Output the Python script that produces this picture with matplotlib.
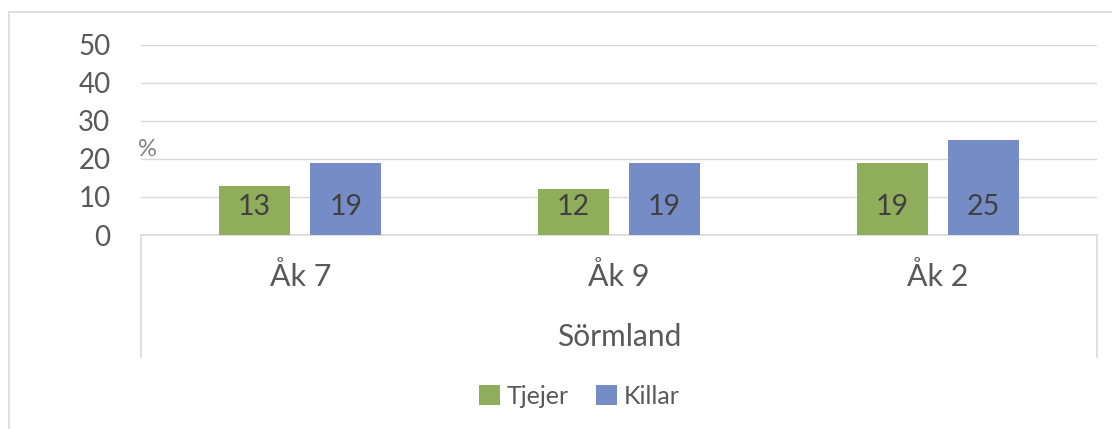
import matplotlib
matplotlib.use("Agg")
import matplotlib.pyplot as plt
import numpy as np
from matplotlib.patches import Rectangle

plt.rcParams['font.family'] = ['Lato', 'DejaVu Sans']

categories = ["Åk 7", "Åk 9", "Åk 2"]
group_label = "Sörmland"
series_names = ["Tjejer", "Killar"]
tjejer = [13, 12, 19]
killar = [19, 19, 25]
yticks = [0, 10, 20, 30, 40, 50]

green = "#8FAD5B"
blue = "#758CC6"
grid_col = "#D9D9D9"
text_col = "#595959"

fig = plt.figure(figsize=(11.12, 4.29), dpi=100)
# outer chart border
fig.patches.append(Rectangle((9 / 1112, -0.1), 1.2, 1 - 12 / 429 + 0.1,
                             transform=fig.transFigure, fill=False,
                             edgecolor=grid_col, linewidth=1.2))

ax = fig.add_axes([141 / 1112, 1 - 235 / 429, (1097 - 141) / 1112, (235 - 44.7) / 429])

x = np.arange(len(categories))
w = 0.223
off = 0.143
b1 = ax.bar(x - off, tjejer, w, color=green, label=series_names[0], zorder=3)
b2 = ax.bar(x + off, killar, w, color=blue, label=series_names[1], zorder=3)

for bars, vals in [(b1, tjejer), (b2, killar)]:
    for rect, v in zip(bars, vals):
        ax.annotate(str(v), (rect.get_x() + rect.get_width() / 2, 0),
                    xytext=(0, 20), textcoords="offset pixels",
                    ha="center", va="baseline", fontsize=20.5, color="#404040", zorder=4)

ax.set_xlim(-0.5, len(categories) - 0.5)
ax.set_ylim(0, 50)
ax.set_yticks(yticks)
ax.set_yticklabels([str(t) for t in yticks], fontsize=20, color=text_col)
ax.tick_params(axis="y", length=0, pad=22)
ax.set_xticks([])
ax.yaxis.grid(True, color=grid_col, linewidth=1.0, zorder=0)
ax.set_axisbelow(True)
for s in ["top", "left", "right"]:
    ax.spines[s].set_visible(False)
ax.spines["bottom"].set_color(grid_col)
ax.spines["bottom"].set_linewidth(1.2)

# multi-level category axis
h = (235 - 44.7)
depth = (357 - 235) / h
for xa in [0, 1]:
    ax.plot([xa, xa], [0, -depth], transform=ax.transAxes, color=grid_col,
            linewidth=1.2, clip_on=False)
trans = ax.get_xaxis_transform()
for i, c in enumerate(categories):
    ax.text(i, -(277 - 235) / h, c, transform=trans, ha="center", va="center",
            fontsize=22, color=text_col)
ax.text(0.5, -(337 - 235) / h, group_label, transform=ax.transAxes,
        ha="center", va="center", fontsize=21.5, color=text_col)

ax.text(-0.003, (235 - 150) / h, "%", transform=ax.transAxes, ha="left", va="center",
        fontsize=17, color="#7F7F7F")

fig.legend(handles=[b1, b2], labels=series_names, loc="center",
           bbox_to_anchor=(579 / 1112, 1 - 396 / 429), ncol=2, frameon=False,
           fontsize=18, labelcolor=text_col, handlelength=0.85, handleheight=0.85,
           handletextpad=0.25, columnspacing=1.1)

fig.savefig("out.png", dpi=100)
